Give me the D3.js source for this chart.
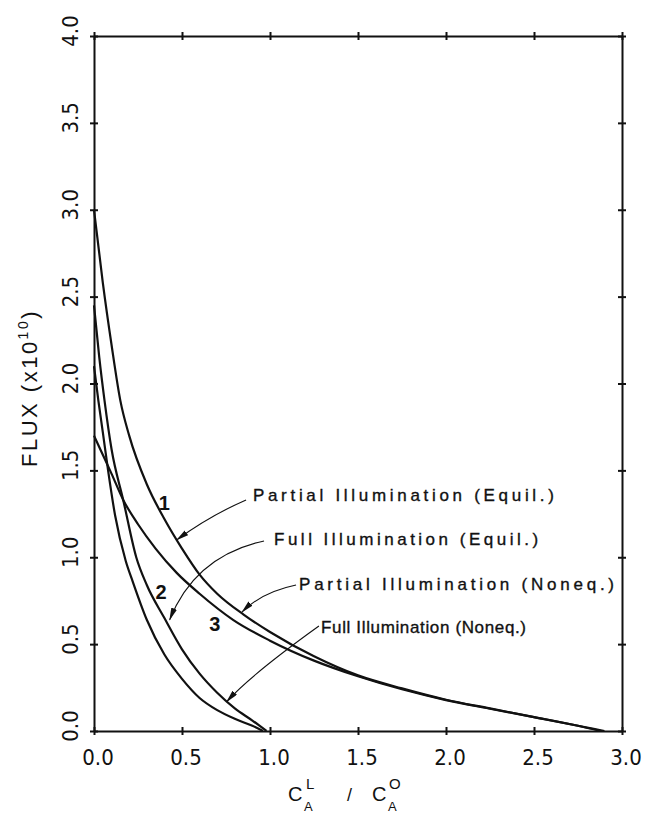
<!DOCTYPE html>
<html>
<head>
<meta charset="utf-8">
<script src="https://cdn.jsdelivr.net/npm/d3@7"></script>
<style>
  body { margin: 0; background: #fff; }
  svg { display: block; }
</style>
</head>
<body>
<div id="chart"></div>
<script>
// tick values
const xTicks = [0, 0.5, 1.0, 1.5, 2.0, 2.5, 3.0];
const yTicks = [0, 0.5, 1.0, 1.5, 2.0, 2.5, 3.0, 3.5, 4.0];

// curve 1: partial illumination (equil.)
const partialEquilX = [0, 0.05, 0.1, 0.15, 0.2, 0.3, 0.4, 0.5, 0.6, 0.7, 0.85, 1.0, 1.25, 1.5, 1.75, 2.0, 2.25, 2.5, 2.75, 2.9];
const partialEquilY = [3.0, 2.58, 2.22, 1.90, 1.70, 1.42, 1.22, 1.05, 0.90, 0.79, 0.67, 0.57, 0.43, 0.32, 0.245, 0.18, 0.13, 0.08, 0.03, 0.0];

// curve 3: partial illumination (noneq.)
const partialNoneqX = [0, 0.05, 0.1, 0.166, 0.25, 0.35, 0.47, 0.6, 0.79, 1.0, 1.25, 1.5, 1.75, 2.0, 2.25, 2.5, 2.75, 2.88];
const partialNoneqY = [1.70, 1.59, 1.48, 1.33, 1.19, 1.05, 0.91, 0.79, 0.64, 0.52, 0.405, 0.315, 0.24, 0.178, 0.128, 0.08, 0.03, 0.0];

// curve 2: full illumination (equil.)
const fullEquilX = [0, 0.03, 0.06, 0.1, 0.166, 0.24, 0.3, 0.4, 0.5, 0.6, 0.7, 0.8, 0.9, 0.98];
const fullEquilY = [2.45, 2.15, 1.90, 1.62, 1.33, 1.0, 0.84, 0.65, 0.47, 0.33, 0.22, 0.13, 0.06, 0.0];

// full illumination (noneq.)
const fullNoneqX = [0, 0.025, 0.05, 0.08, 0.12, 0.18, 0.22, 0.3, 0.4, 0.5, 0.6, 0.7, 0.8, 0.9, 0.96];
const fullNoneqY = [2.1, 1.90, 1.72, 1.50, 1.24, 0.98, 0.86, 0.64, 0.44, 0.30, 0.19, 0.12, 0.07, 0.03, 0.0];

// annotations (data coordinates)
const annoText = ["Partial Illumination (Equil.)", "Full Illumination (Equil.)", "Partial Illumination (Noneq.)", "Full Illumination (Noneq.)"];
const annoAt = [[0.903, 1.324], [1.023, 1.071], [1.165, 0.8115], [1.29, 0.564]];
const annoWidth = [301, 264, 315, 205];
const arrowFrom = [[0.864, 1.33], [0.966, 1.094], [1.148, 0.84], [1.278, 0.604]];
const arrowVia = [[0.66, 1.24], [0.574, 1.007], [0.955, 0.80], [0.89, 0.322]];
const arrowTo = [[0.47, 1.10], [0.43, 0.64], [0.841, 0.685], [0.754, 0.169]];

const curveLabels = ["1", "2", "3"];
const curveLabelAt = [[0.40, 1.312], [0.381, 0.80], [0.687, 0.616]];

// set up svg
const width = 647, height = 816;
const svg = d3.select("#chart").append("svg")
  .attr("width", width)
  .attr("height", height);

const x = d3.scaleLinear().domain([0, 3]).range([94, 622]);
const y = d3.scaleLinear().domain([0, 4]).range([731, 36]);

const ink = "#111";

// frame + crossing ticks on all four sides
function crossTicks(g, dir) {
  g.selectAll(".domain").attr("stroke", ink).attr("stroke-width", 2);
  g.selectAll(".tick line").attr("stroke", ink).attr("stroke-width", 2);
  if (dir === "v") g.selectAll(".tick line").attr("y1", -4);
  else g.selectAll(".tick line").attr("x1", -4);
}

svg.append("g").attr("transform", `translate(0,${y(0)})`)
  .call(d3.axisBottom(x).tickValues(xTicks).tickSize(4).tickSizeOuter(0).tickFormat(""))
  .call(g => crossTicks(g, "v"));
svg.append("g").attr("transform", `translate(0,${y(4)})`)
  .call(d3.axisTop(x).tickValues(xTicks).tickSize(4).tickSizeOuter(0).tickFormat(""))
  .call(g => { crossTicks(g, "v"); g.selectAll(".tick line").attr("y1", 4); });
svg.append("g").attr("transform", `translate(${x(0)},0)`)
  .call(d3.axisLeft(y).tickValues(yTicks).tickSize(4).tickSizeOuter(0).tickFormat(""))
  .call(g => { crossTicks(g, "h"); g.selectAll(".tick line").attr("x1", 4); });
svg.append("g").attr("transform", `translate(${x(3)},0)`)
  .call(d3.axisRight(y).tickValues(yTicks).tickSize(4).tickSizeOuter(0).tickFormat(""))
  .call(g => crossTicks(g, "h"));

// tick labels
const fmt = d3.format(".1f");
const tickFont = "'DejaVu Sans Condensed', 'DejaVu Sans', sans-serif";

svg.append("g").selectAll("text")
  .data(xTicks)
  .enter().append("text")
  .attr("x", d => x(d) + 4)
  .attr("y", 765)
  .attr("text-anchor", "middle")
  .attr("font-family", tickFont)
  .attr("font-stretch", "condensed")
  .attr("font-size", 22)
  .attr("fill", ink)
  .text(fmt);

svg.append("g").selectAll("text")
  .data(yTicks)
  .enter().append("text")
  .attr("transform", d => `translate(78,${y(d) - 5}) rotate(-90)`)
  .attr("text-anchor", "middle")
  .attr("font-family", tickFont)
  .attr("font-stretch", "condensed")
  .attr("font-size", 22)
  .attr("fill", ink)
  .text(fmt);

// axis titles
const titleFont = "'Liberation Sans', Arial, sans-serif";
const yTitle = svg.append("text")
  .attr("transform", "translate(37,388) rotate(-90)")
  .attr("text-anchor", "middle")
  .attr("font-family", titleFont)
  .attr("font-size", 22)
  .attr("letter-spacing", 2.5)
  .attr("fill", ink);
yTitle.append("tspan").text("FLUX (x10");
yTitle.append("tspan").attr("font-size", 14).attr("dy", -9).text("10");
yTitle.append("tspan").attr("dy", 9).text(")");

const xTitle = svg.append("g")
  .attr("font-family", titleFont)
  .attr("fill", ink);
const xParts = [
  {t: "C", x: 288, y: 801, s: 20},
  {t: "A", x: 304, y: 811, s: 13},
  {t: "L", x: 306, y: 789, s: 15},
  {t: "/", x: 347, y: 801, s: 18},
  {t: "C", x: 372, y: 801, s: 20},
  {t: "A", x: 388, y: 811, s: 13},
  {t: "O", x: 389, y: 789, s: 15}
];
xTitle.selectAll("text")
  .data(xParts)
  .enter().append("text")
  .attr("x", d => d.x)
  .attr("y", d => d.y)
  .attr("font-size", d => d.s)
  .text(d => d.t);

// curves
const line = d3.line()
  .x(d => x(d[0]))
  .y(d => y(d[1]))
  .curve(d3.curveMonotoneX);

const series = [
  d3.zip(partialEquilX, partialEquilY),
  d3.zip(partialNoneqX, partialNoneqY),
  d3.zip(fullEquilX, fullEquilY),
  d3.zip(fullNoneqX, fullNoneqY)
];

svg.append("g").selectAll("path")
  .data(series)
  .enter().append("path")
  .attr("d", line)
  .attr("fill", "none")
  .attr("stroke", ink)
  .attr("stroke-width", 2.2);

// arrows
svg.append("defs").append("marker")
  .attr("id", "arrowhead")
  .attr("viewBox", "0 0 13 6")
  .attr("refX", 12)
  .attr("refY", 3)
  .attr("markerWidth", 13)
  .attr("markerHeight", 6)
  .attr("markerUnits", "userSpaceOnUse")
  .attr("orient", "auto")
  .append("path")
  .attr("d", "M0,0 L13,3 L0,6 Z")
  .attr("fill", ink);

svg.append("g").selectAll("path")
  .data(d3.range(arrowFrom.length))
  .enter().append("path")
  .attr("d", i => `M${x(arrowFrom[i][0])},${y(arrowFrom[i][1])} Q${x(arrowVia[i][0])},${y(arrowVia[i][1])} ${x(arrowTo[i][0])},${y(arrowTo[i][1])}`)
  .attr("fill", "none")
  .attr("stroke", ink)
  .attr("stroke-width", 1.1)
  .attr("marker-end", "url(#arrowhead)");

// annotation texts
svg.append("g").selectAll("text")
  .data(annoText)
  .enter().append("text")
  .attr("x", (d, i) => x(annoAt[i][0]))
  .attr("y", (d, i) => y(annoAt[i][1]))
  .attr("font-family", titleFont)
  .attr("font-size", 17)
  .attr("textLength", (d, i) => annoWidth[i])
  .attr("lengthAdjust", "spacing")
  .attr("fill", ink)
  .attr("stroke", ink)
  .attr("stroke-width", 0.35)
  .text(d => d);

// curve numbers
svg.append("g").selectAll("text")
  .data(curveLabels)
  .enter().append("text")
  .attr("x", (d, i) => x(curveLabelAt[i][0]))
  .attr("y", (d, i) => y(curveLabelAt[i][1]))
  .attr("text-anchor", "middle")
  .attr("dominant-baseline", "central")
  .attr("font-family", titleFont)
  .attr("font-weight", "bold")
  .attr("font-size", 20)
  .attr("fill", ink)
  .text(d => d);
</script>
</body>
</html>
